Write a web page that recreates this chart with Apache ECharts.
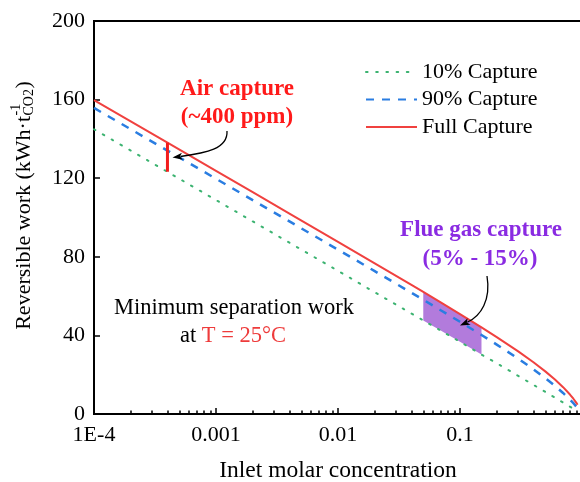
<!DOCTYPE html>
<html>
<head>
<meta charset="utf-8">
<script src="https://cdn.jsdelivr.net/npm/echarts@6/dist/echarts.min.js"></script>
<style>
  html, body { margin: 0; padding: 0; background: #fff; }
  #chart { width: 580px; height: 482px; }
</style>
</head>
<body>
<div id="chart"></div>
<script>
// Inlet CO2 mole fraction (log scale)
const concentration = [1e-4, 2e-4, 4e-4, 1e-3, 2e-3, 4e-3, 0.01, 0.02, 0.04, 0.05, 0.07, 0.1,
                       0.15, 0.2, 0.3, 0.4, 0.5, 0.6, 0.7, 0.8, 0.85, 0.9, 0.92];
// Minimum (reversible) separation work, kWh per tonne CO2, at 25 °C
const work10 = [144.91, 134.07, 123.22, 108.88, 98.02, 87.17, 72.86, 61.95, 51.14, 47.64, 42.37, 36.76,
                30.23, 25.83, 19.41, 14.83, 11.26, 8.32, 5.83, 3.66, 2.67, 1.73, 1.37];
const work90 = [155.75, 144.91, 134.06, 119.72, 108.86, 98.01, 83.62, 72.71, 61.69, 58.12, 52.69, 46.94,
                40.22, 35.32, 28.15, 22.75, 18.27, 14.34, 10.71, 7.23, 5.50, 3.74, 3.02];
const workFull = [159.75, 148.91, 138.06, 123.72, 112.86, 102.01, 87.62, 76.70, 65.69, 62.12, 56.69, 50.86,
                  44.09, 39.15, 31.86, 26.32, 21.69, 17.55, 13.65, 9.79, 7.78, 5.65, 4.74];

// Flue gas band (5% - 15%): between full capture and 10% capture
const flueX = [0.05, 0.07, 0.1, 0.15];
const flueTop = [62.12, 56.69, 50.86, 44.09];
const flueBottom = [47.64, 42.37, 36.76, 30.23];

// Air capture (~400 ppm) bar: from full capture down to 10% capture
const airX = 4e-4;
const airTop = 138.06;
const airBottom = 123.22;

const seriesNames = ['10% Capture', '90% Capture', 'Full Capture'];
const xTickLabels = { '-4': '1E-4', '-3': '0.001', '-2': '0.01', '-1': '0.1', '0': '' };
// minor tick positions, expressed as log10 of 2..9 within each decade
const minorTicks = [];
for (let d = -4; d < 0; d++) for (let m = 2; m <= 9; m++) minorTicks.push(d + Math.log10(m));

const SERIF = '"Liberation Serif", "Times New Roman", serif';
const toPairs = (xs, ys) => xs.map((x, i) => [x, ys[i]]);

const chart = echarts.init(document.getElementById('chart'), null, { renderer: 'canvas' });

const option = {
  animation: false,
  backgroundColor: '#fff',
  textStyle: { fontFamily: SERIF, color: '#000' },
  grid: {
    left: 94, top: 21, width: 488, height: 393, outerBoundsMode: 'none', containLabel: false,
    show: true, borderColor: '#000', borderWidth: 2, backgroundColor: 'transparent'
  },
  legend: {
    data: seriesNames,
    orient: 'vertical',
    left: 365, top: 61,
    padding: 0,
    itemWidth: 51, itemHeight: 22, itemGap: 5.5,
    itemStyle: { opacity: 0 },
    textStyle: { fontFamily: SERIF, fontSize: 22, color: '#000' }
  },
  xAxis: [
    {
      type: 'log', logBase: 10, min: 1e-4, max: 1,
      name: 'Inlet molar concentration', nameLocation: 'middle', nameGap: 45,
      nameTextStyle: { fontFamily: SERIF, fontSize: 23.5, color: '#000' },
      axisLine: { onZero: false, lineStyle: { color: '#000', width: 2 } },
      axisTick: { inside: true, length: 6, lineStyle: { color: '#000', width: 1.5 } },
      axisLabel: {
        fontFamily: SERIF, fontSize: 22, color: '#000', margin: 10,
        formatter: v => xTickLabels[String(Math.round(Math.log10(v)))] ?? ''
      },
      splitLine: { show: false }
    },
    {
      type: 'value', min: -4, max: 0, position: 'bottom', offset: 0,
      axisLine: { show: false, onZero: false },
      axisTick: { show: true, inside: true, length: 3.5, customValues: minorTicks, lineStyle: { color: '#000', width: 1.5 } },
      axisLabel: { show: false },
      splitLine: { show: false }
    }
  ],
  yAxis: {
    type: 'value', min: 0, max: 200, interval: 40,
    axisLine: { show: true, onZero: false, lineStyle: { color: '#000', width: 2 } },
    axisTick: { show: true, inside: true, length: 6, lineStyle: { color: '#000', width: 1.5 } },
    axisLabel: { fontFamily: SERIF, fontSize: 22, color: '#000', margin: 9 },
    splitLine: { show: false }
  },
  series: [
    {
      type: 'custom', name: 'flue', coordinateSystem: 'cartesian2d', silent: true, z: 1,
      data: [[0.1, 40]], encode: { x: 0, y: 1 },
      renderItem: (params, api) => {
        const top = flueX.map((x, i) => api.coord([x, flueTop[i]]));
        const bottom = flueX.map((x, i) => api.coord([x, flueBottom[i]])).reverse();
        return { type: 'polygon', shape: { points: top.concat(bottom) }, style: { fill: '#b27bdc' } };
      }
    },
    {
      type: 'line', name: seriesNames[0], data: toPairs(concentration, work10), symbol: 'none', z: 3,
      lineStyle: { color: '#3cb371', width: 2, type: [1.6, 8.6], cap: 'round' }, itemStyle: { color: '#3cb371' }
    },
    {
      type: 'line', name: seriesNames[1], data: toPairs(concentration, work90), symbol: 'none', z: 4,
      lineStyle: { color: '#2a7de1', width: 2.5, type: [8, 8] }, itemStyle: { color: '#2a7de1' }
    },
    {
      type: 'line', name: seriesNames[2], data: toPairs(concentration, workFull), symbol: 'none', z: 5,
      lineStyle: { color: '#f0413f', width: 2 }, itemStyle: { color: '#f0413f' }
    },
    {
      type: 'line', name: 'air', data: [[airX, airTop], [airX, airBottom]], symbol: 'none', z: 6, silent: true,
      lineStyle: { color: '#f21d1d', width: 3 }
    }
  ]
};
chart.setOption(option);

// ---- annotations ----
const measureCtx = document.createElement('canvas').getContext('2d');
function textWidth(str, size, weight) {
  measureCtx.font = (weight || 'normal') + ' ' + size + 'px ' + SERIF;
  return measureCtx.measureText(str).width;
}

// y-axis title with stacked super/subscript, rotated to read bottom-up
const yMain = 'Reversible work (kWh\u00b7t';
const ySup = '-1', ySub = 'CO2', yClose = ')';
const wMain = textWidth(yMain, 22), wSup = textWidth(ySup, 14), wSub = textWidth(ySub, 14), wClose = textWidth(yClose, 22);
const yTotal = wMain + Math.max(wSup, wSub) + wClose;
const x0 = -yTotal / 2;
const t = (text, x, y, size) => ({
  type: 'text', x, y,
  style: { text, font: 'normal ' + size + 'px ' + SERIF, fill: '#000', textAlign: 'left', textVerticalAlign: 'middle' }
});
const yTitle = {
  type: 'group', x: 24, y: 206, rotation: Math.PI / 2,
  children: [
    t(yMain, x0, 0, 22),
    t(ySup, x0 + wMain + 0.5, -8, 14),
    t(ySub, x0 + wMain + 0.5, 5, 14),
    t(yClose, x0 + wMain + Math.max(wSup, wSub) + 1, 0, 22)
  ]
};

const centered = (text, x, y, size, color, weight) => ({
  type: 'text', x, y, z: 20,
  style: { text, font: (weight || 'normal') + ' ' + size + 'px ' + SERIF, fill: color, textAlign: 'center', textVerticalAlign: 'middle' }
});

function arrow(p0, c1, c2, p3) {
  const dx = p3[0] - c2[0], dy = p3[1] - c2[1];
  const len = Math.hypot(dx, dy), ux = dx / len, uy = dy / len;
  const L = 10, W = 3.6;
  const bx = p3[0] - ux * L, by = p3[1] - uy * L;
  return [
    { type: 'bezierCurve', z: 20, shape: { x1: p0[0], y1: p0[1], cpx1: c1[0], cpy1: c1[1], cpx2: c2[0], cpy2: c2[1], x2: bx + ux * 2, y2: by + uy * 2 },
      style: { stroke: '#000', lineWidth: 1.3, fill: null } },
    { type: 'polygon', z: 20, shape: { points: [p3, [bx - uy * W, by + ux * W], [bx + ux * 2.5, by + uy * 2.5], [bx + uy * W, by - ux * W]] },
      style: { fill: '#000' } }
  ];
}

// arrow tips anchored on the data they point at
const tipAir = chart.convertToPixel({ gridIndex: 0 }, [4.4e-4, 130.5]);
const tipFlue = chart.convertToPixel({ gridIndex: 0 }, [0.1, 45]);

chart.setOption({
  graphic: [
    yTitle,
    centered('Air capture', 237, 89, 23, '#ff1a1a', 'bold'),
    centered('(~400 ppm)', 237, 117, 23, '#ff1a1a', 'bold'),
    centered('Flue gas capture', 481, 230, 23, '#8a2be2', 'bold'),
    centered('(5% - 15%)', 480, 259, 23, '#8a2be2', 'bold'),
    centered('Minimum separation work', 234, 308, 22.5, '#000'),
    {
      type: 'text', x: 233, y: 336, z: 20,
      style: {
        text: '{a|at }{b|T = 25\u00b0C}', textAlign: 'center', textVerticalAlign: 'middle',
        rich: {
          a: { font: 'normal 22.5px ' + SERIF, fill: '#000' },
          b: { font: 'normal 22.5px ' + SERIF, fill: '#ee3b3b' }
        }
      }
    },
    ...arrow([227, 131], [228, 149], [206, 153], tipAir),
    ...arrow([487, 276], [491, 300], [481, 316], tipFlue)
  ]
});
</script>
</body>
</html>
